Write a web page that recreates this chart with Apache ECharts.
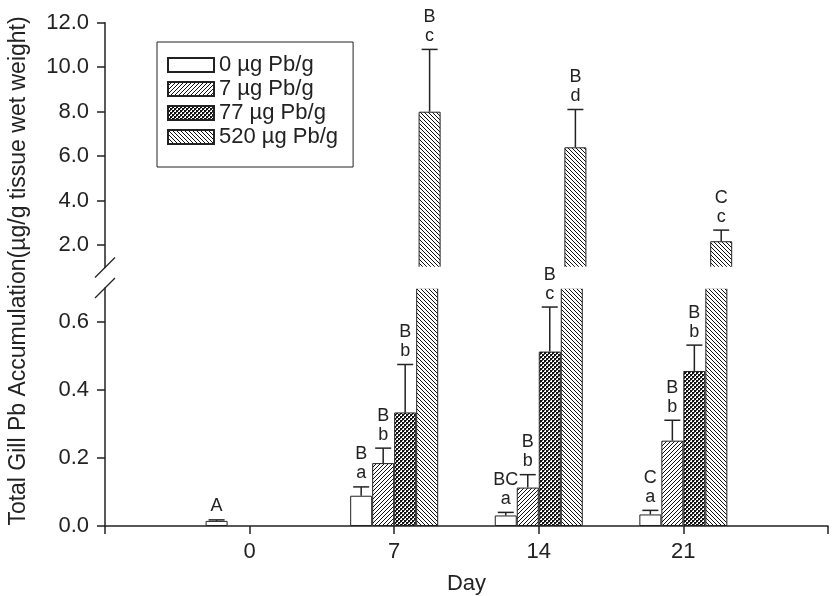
<!DOCTYPE html>
<html>
<head>
<meta charset="utf-8">
<script src="https://cdn.jsdelivr.net/npm/echarts@6/dist/echarts.min.js"></script>
<style>
html,body{margin:0;padding:0;background:#fff;}
#chart{width:834px;height:596px;}
</style>
</head>
<body>
<div id="chart"></div>
<script>
// ---------- data ----------
const dayCategories = ['', '0', '7', '14', '21', ' '];
const seriesNames = ['0 µg Pb/g', '7 µg Pb/g', '77 µg Pb/g', '520 µg Pb/g'];

const pb0    = [null, 0.015, 0.089, 0.031, 0.034, null];
const pb0Err = [null, 0.003, 0.026, 0.009, 0.012, null];
const pb7    = [null, null, 0.185, 0.113, 0.251, null];
const pb7Err = [null, null, 0.044, 0.038, 0.060, null];
const pb77    = [null, null, 0.334, 0.513, 0.456, null];
const pb77Err = [null, null, 0.141, 0.131, 0.076, null];
const pb520    = [null, null, 8.0, 6.4, 2.18, null];
const pb520Err = [null, null, 2.8, 1.7, 0.5, null];

// letters: upper line (time comparison), lower line (dose comparison)
const pb0Up  = [null, 'A', 'B', 'BC', 'C', null];
const pb0Low = [null, '',  'a', 'a',  'a', null];
const pb7Up  = [null, null, 'B', 'B', 'B', null];
const pb7Low = [null, null, 'b', 'b', 'b', null];
const pb77Up  = [null, null, 'B', 'B', 'B', null];
const pb77Low = [null, null, 'b', 'c', 'b', null];
const pb520Up  = [null, null, 'B', 'B', 'C', null];
const pb520Low = [null, null, 'c', 'd', 'c', null];

const upperTicks = [2, 4, 6, 8, 10, 12];
const lowerTicks = [0, 0.2, 0.4, 0.6];
const UPPER_MIN = 1, UPPER_MAX = 12;
const LOWER_MIN = 0, LOWER_MAX = 0.7;

// ---------- layout / style ----------
const BAR_W = 22;
const GRID_LEFT = 105, GRID_W = 730;
const UP_TOP = 22.7, UP_H = 244.8;
const LO_TOP = 288, LO_H = 245;
const INK = '#222';
const FONT = '"Liberation Sans", Arial, Helvetica, sans-serif';

function makePattern(kind) {
  const c = document.createElement('canvas');
  const n = 4;
  c.width = n; c.height = n;
  const ctx = c.getContext('2d');
  ctx.fillStyle = '#fff';
  ctx.fillRect(0, 0, n, n);
  ctx.fillStyle = '#111';
  if (kind === 'fwd') {
    for (let i = 0; i < n; i++) ctx.fillRect(i, n - 1 - i, 1, 1);
  } else if (kind === 'back') {
    for (let i = 0; i < n; i++) ctx.fillRect(i, i, 1, 1);
  } else if (kind === 'cross') {
    ctx.fillRect(0, 0, 2, 2);
    ctx.fillRect(2, 2, 2, 2);
    ctx.fillStyle = '#555';
    ctx.fillRect(2, 0, 1, 1);
    ctx.fillRect(0, 2, 1, 1);
  }
  return { image: c, repeat: 'repeat' };
}
const fills = ['#ffffff', makePattern('fwd'), makePattern('cross'), makePattern('back')];

const values = [pb0, pb7, pb77, pb520];
const errs = [pb0Err, pb7Err, pb77Err, pb520Err];
const ups = [pb0Up, pb7Up, pb77Up, pb520Up];
const lows = [pb0Low, pb7Low, pb77Low, pb520Low];

const items = [];
values.forEach((arr, k) => arr.forEach((v, i) => {
  if (v != null) items.push({ k, i, v, e: errs[k][i], up: ups[k][i], low: lows[k][i] });
}));
const lowerItems = items.filter(d => d.v <= LOWER_MAX);
const upperItems = items.filter(d => d.v >= UPPER_MIN);

function errRender(list) {
  return function (params, api) {
    const d = list[params.dataIndex];
    const base = api.coord([d.i, d.v]);
    const top = api.coord([d.i, d.v + d.e]);
    const x = base[0] + (d.k - 1.5) * BAR_W;
    const txt = d.low ? d.up + '\n' + d.low : d.up;
    return {
      type: 'group',
      children: [
        { type: 'line', shape: { x1: x, y1: base[1], x2: x, y2: top[1] }, style: { stroke: INK, lineWidth: 1.5 } },
        { type: 'line', shape: { x1: x - 8, y1: top[1], x2: x + 8, y2: top[1] }, style: { stroke: INK, lineWidth: 1.5 } },
        { type: 'text', x: x, y: top[1] - 4, style: { text: txt, fill: INK, font: '18px ' + FONT, align: 'center', verticalAlign: 'bottom', lineHeight: 19 } }
      ]
    };
  };
}

const barSeries = [];
[0, 1].forEach(g => {
  values.forEach((arr, k) => {
    barSeries.push({
      type: 'bar', name: seriesNames[k], xAxisIndex: g, yAxisIndex: g,
      data: arr, barWidth: BAR_W, barGap: '0%', clip: true, z: 2,
      itemStyle: { color: fills[k], borderColor: INK, borderWidth: 1 },
      emphasis: { disabled: true }
    });
  });
});

const axisLineStyle = { show: true, lineStyle: { color: INK, width: 1.5 } };
const axisTickStyle = { show: true, inside: false, length: 8, lineStyle: { color: INK, width: 1.5 } };

const chart = echarts.init(document.getElementById('chart'), null, { renderer: 'canvas' });
chart.setOption({
  animation: false,
  backgroundColor: '#fff',
  textStyle: { fontFamily: FONT },
  grid: [
    { left: GRID_LEFT, top: UP_TOP, width: GRID_W, height: UP_H },
    { left: GRID_LEFT, top: LO_TOP, width: GRID_W, height: LO_H }
  ],
  legend: {
    data: seriesNames, orient: 'vertical', left: 157, top: 42,
    icon: 'rect', itemWidth: 46, itemHeight: 14, itemGap: 2,
    padding: [12, 15, 19, 10], borderColor: INK, borderWidth: 1,
    textStyle: { fontSize: 22, lineHeight: 22, color: INK, fontFamily: FONT },
    selectedMode: false
  },
  xAxis: [
    { type: 'category', gridIndex: 0, data: dayCategories, boundaryGap: false, show: false },
    {
      type: 'category', gridIndex: 1, data: dayCategories, boundaryGap: false,
      axisLine: axisLineStyle, axisTick: Object.assign({ interval: 0 }, axisTickStyle),
      axisLabel: { interval: 0, fontSize: 22, color: INK, margin: 15, fontFamily: FONT },
      splitLine: { show: false },
      name: 'Day', nameLocation: 'middle', nameGap: 47,
      nameTextStyle: { fontSize: 22, color: INK, fontFamily: FONT }
    }
  ],
  yAxis: [
    {
      type: 'value', gridIndex: 0, min: UPPER_MIN, max: UPPER_MAX,
      axisLine: axisLineStyle,
      axisTick: Object.assign({ customValues: upperTicks }, axisTickStyle),
      axisLabel: { customValues: upperTicks, fontSize: 22, color: INK, margin: 16, fontFamily: FONT, formatter: v => Number(v).toFixed(1) },
      splitLine: { show: false }
    },
    {
      type: 'value', gridIndex: 1, min: LOWER_MIN, max: LOWER_MAX,
      axisLine: axisLineStyle,
      axisTick: Object.assign({ customValues: lowerTicks }, axisTickStyle),
      axisLabel: { customValues: lowerTicks, fontSize: 22, color: INK, margin: 16, fontFamily: FONT, formatter: v => Number(v).toFixed(1) },
      splitLine: { show: false }
    }
  ],
  series: barSeries.concat([
    { type: 'custom', xAxisIndex: 0, yAxisIndex: 0, clip: false, silent: true, z: 5,
      data: upperItems.map(d => [d.i, d.v + d.e]), renderItem: errRender(upperItems) },
    { type: 'custom', xAxisIndex: 1, yAxisIndex: 1, clip: false, silent: true, z: 5,
      data: lowerItems.map(d => [d.i, d.v + d.e]), renderItem: errRender(lowerItems) }
  ]),
  graphic: [
    // white mask over the axis-break gap (hides the clip edges of the broken bars)
    { type: 'rect', z: 3, silent: true,
      shape: { x: GRID_LEFT + 1, y: UP_TOP + UP_H - 0.8, width: GRID_W, height: LO_TOP - (UP_TOP + UP_H) + 1.6 },
      style: { fill: '#fff' } },
    { type: 'text', x: 19, y: 271, rotation: Math.PI / 2, z: 6,
      style: { text: 'Total Gill Pb Accumulation(µg/g tissue wet weight)', fill: INK, font: '23px ' + FONT, align: 'center', verticalAlign: 'middle' } },
    { type: 'line', z: 6, shape: { x1: GRID_LEFT - 10, y1: UP_TOP + UP_H + 10, x2: GRID_LEFT + 10, y2: UP_TOP + UP_H - 10 }, style: { stroke: INK, lineWidth: 1.2 } },
    { type: 'line', z: 6, shape: { x1: GRID_LEFT - 10, y1: LO_TOP + 10, x2: GRID_LEFT + 10, y2: LO_TOP - 10 }, style: { stroke: INK, lineWidth: 1.2 } }
  ]
});
</script>
</body>
</html>
